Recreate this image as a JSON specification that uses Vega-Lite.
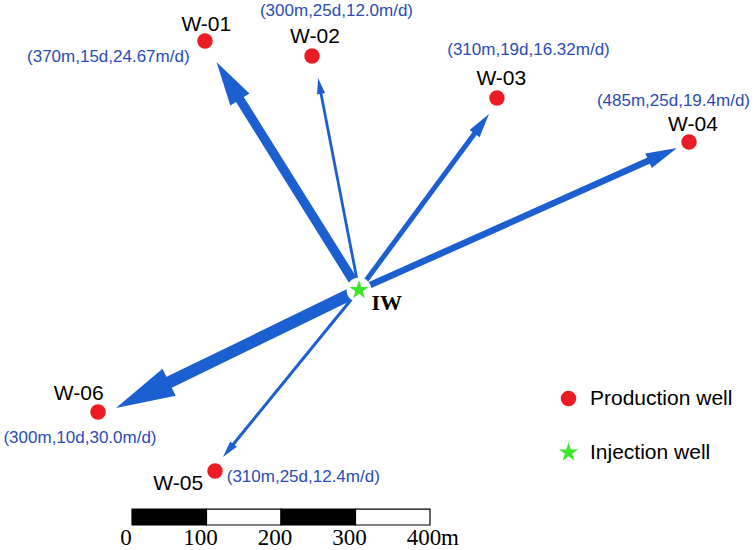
{
  "$schema": "https://vega.github.io/schema/vega-lite/v6.json",
  "width": 756,
  "height": 550,
  "padding": 0,
  "autosize": {"type": "none"},
  "background": "white",
  "config": {"view": {"stroke": null}},
  "datasets": {
    "wells": [
      {"well": "W-01", "type": "Production well", "east": -206.7, "north": 334.2, "tip_e": -191.3, "tip_n": 306.0, "shaft_e": -169.4, "shaft_n": 271.0, "bearing": -32.0, "distance": 370, "days": 15, "velocity": 24.67, "name_e": -205.0, "name_n": 347.7, "note": "(370m,15d,24.67m/d)", "note_e": -336.5, "note_n": 305.6},
      {"well": "W-02", "type": "Production well", "east": -63.1, "north": 314.1, "tip_e": -55.0, "tip_n": 284.6, "shaft_e": -52.2, "shaft_n": 269.8, "bearing": -10.9, "distance": 300, "days": 25, "velocity": 12.0, "name_e": -59.1, "name_n": 331.1, "note": "(300m,25d,12.0m/d)", "note_e": -30.2, "note_n": 367.8},
      {"well": "W-03", "type": "Production well", "east": 185.2, "north": 257.7, "tip_e": 174.5, "tip_n": 236.2, "shaft_e": 161.1, "shaft_n": 218.1, "bearing": 36.4, "distance": 310, "days": 19, "velocity": 16.32, "name_e": 191.0, "name_n": 275.2, "note": "(310m,19d,16.32m/d)", "note_e": 227.5, "note_n": 315.4},
      {"well": "W-04", "type": "Production well", "east": 443.0, "north": 198.7, "tip_e": 426.8, "tip_n": 190.6, "shaft_e": 400.3, "shaft_n": 178.7, "bearing": 65.9, "distance": 485, "days": 25, "velocity": 19.4, "name_e": 448.3, "name_n": 213.8, "note": "(485m,25d,19.4m/d)", "note_e": 422.1, "note_n": 247.0},
      {"well": "W-05", "type": "Production well", "east": -193.3, "north": -243.0, "tip_e": -182.6, "tip_n": -224.2, "shaft_e": -172.5, "shaft_n": -211.8, "bearing": -140.8, "distance": 310, "days": 25, "velocity": 12.4, "name_e": -242.6, "name_n": -268.5, "note": "(310m,25d,12.4m/d)", "note_e": -74.8, "note_n": -257.3},
      {"well": "W-06", "type": "Production well", "east": -350.3, "north": -163.8, "tip_e": -326.2, "tip_n": -158.4, "shaft_e": -276.2, "shaft_n": -134.2, "bearing": -115.9, "distance": 300, "days": 10, "velocity": 30.0, "name_e": -376.2, "name_n": -147.7, "note": "(300m,10d,30.0m/d)", "note_e": -374.5, "note_n": -205.0},
      {"well": "IW", "type": "Injection well", "east": 0, "north": 0, "name_e": 37.2, "name_n": -26.8}
    ],
    "bar": [
      {"from": 0, "to": 100},
      {"from": 100, "to": 200},
      {"from": 200, "to": 300},
      {"from": 300, "to": 400}
    ],
    "ticks": [
      {"d": 0, "label": "0"},
      {"d": 100, "label": "100"},
      {"d": 200, "label": "200"},
      {"d": 300, "label": "300"},
      {"d": 400, "label": "400"}
    ]
  },
  "resolve": {"scale": {"x": "independent"}},
  "layer": [
    {
      "data": {"name": "wells"},
      "layer": [
        {
          "transform": [{"filter": "isValid(datum.velocity)"}],
          "mark": {"type": "rule", "color": "#1c5fd0", "strokeCap": "butt"},
          "encoding": {
            "x": {"field": "shaft_e", "type": "quantitative", "scale": {"domain": [-481.88, 532.89], "nice": false, "zero": false}, "axis": null},
            "y": {"field": "shaft_n", "type": "quantitative", "scale": {"domain": [-348.99, 389.26], "nice": false, "zero": false}, "axis": null},
            "x2": {"datum": 0},
            "y2": {"datum": 0},
            "strokeWidth": {"field": "velocity", "type": "quantitative", "scale": {"domain": [12, 30], "range": [2.8, 12], "zero": false}, "legend": null}
          }
        },
        {
          "transform": [{"filter": "isValid(datum.velocity)"}],
          "mark": {"type": "point", "shape": "M0,0L0.51,2L-0.51,2Z", "filled": true, "color": "#1c5fd0", "opacity": 1, "strokeWidth": 0},
          "encoding": {
            "x": {"field": "tip_e", "type": "quantitative", "scale": {"domain": [-481.88, 532.89], "nice": false, "zero": false}, "axis": null},
            "y": {"field": "tip_n", "type": "quantitative", "scale": {"domain": [-348.99, 389.26], "nice": false, "zero": false}, "axis": null},
            "angle": {"field": "bearing", "type": "quantitative", "scale": null},
            "size": {"field": "velocity", "type": "quantitative", "scale": {"type": "pow", "exponent": 3, "domain": [12, 30], "range": [256, 3481], "zero": false}, "legend": null}
          }
        },
        {
          "transform": [{"filter": "datum.type === 'Injection well'"}],
          "mark": {"type": "point", "shape": "circle", "filled": true, "color": "white", "opacity": 1, "size": 620, "strokeWidth": 0},
          "encoding": {
            "x": {"field": "east", "type": "quantitative", "scale": {"domain": [-481.88, 532.89], "nice": false, "zero": false}, "axis": null},
            "y": {"field": "north", "type": "quantitative", "scale": {"domain": [-348.99, 389.26], "nice": false, "zero": false}, "axis": null}
          }
        },
        {
          "mark": {"type": "point", "filled": true, "opacity": 1, "size": 240, "strokeWidth": 0},
          "encoding": {
            "x": {"field": "east", "type": "quantitative", "scale": {"domain": [-481.88, 532.89], "nice": false, "zero": false}, "axis": null},
            "y": {"field": "north", "type": "quantitative", "scale": {"domain": [-348.99, 389.26], "nice": false, "zero": false}, "axis": null},
            "color": {
              "field": "type", "type": "nominal",
              "scale": {"domain": ["Production well", "Injection well"], "range": ["#ec1c24", "#3ee62a"]},
              "legend": {"orient": "none", "legendX": 558, "legendY": 388, "title": null, "padding": 0, "labelFontSize": 21, "labelFont": "Liberation Sans", "labelColor": "black", "symbolSize": 240, "labelOffset": 11, "rowPadding": 32, "symbolStrokeWidth": 0, "symbolOpacity": 1}
            },
            "shape": {
              "field": "type", "type": "nominal",
              "scale": {"domain": ["Production well", "Injection well"], "range": ["circle", "M0,-1.3L0.292,-0.402L1.236,-0.402L0.472,0.153L0.764,1.052L0,0.497L-0.764,1.052L-0.472,0.153L-1.236,-0.402L-0.292,-0.402Z"]},
              "legend": {"orient": "none", "legendX": 558, "legendY": 388, "title": null, "padding": 0, "labelFontSize": 21, "labelFont": "Liberation Sans", "labelColor": "black", "symbolSize": 240, "labelOffset": 11, "rowPadding": 32, "symbolStrokeWidth": 0, "symbolOpacity": 1}
            }
          }
        },
        {
          "transform": [{"filter": "datum.type === 'Production well'"}],
          "mark": {"type": "text", "font": "Liberation Sans", "fontSize": 21, "color": "black", "align": "center", "baseline": "alphabetic"},
          "encoding": {
            "x": {"field": "name_e", "type": "quantitative", "scale": {"domain": [-481.88, 532.89], "nice": false, "zero": false}, "axis": null},
            "y": {"field": "name_n", "type": "quantitative", "scale": {"domain": [-348.99, 389.26], "nice": false, "zero": false}, "axis": null},
            "text": {"field": "well"}
          }
        },
        {
          "transform": [{"filter": "datum.type === 'Production well'"}],
          "mark": {"type": "text", "font": "Liberation Sans", "fontSize": 17, "color": "#2a4db5", "align": "center", "baseline": "alphabetic"},
          "encoding": {
            "x": {"field": "note_e", "type": "quantitative", "scale": {"domain": [-481.88, 532.89], "nice": false, "zero": false}, "axis": null},
            "y": {"field": "note_n", "type": "quantitative", "scale": {"domain": [-348.99, 389.26], "nice": false, "zero": false}, "axis": null},
            "text": {"field": "note"}
          }
        },
        {
          "transform": [{"filter": "datum.type === 'Injection well'"}],
          "mark": {"type": "text", "font": "Liberation Serif", "fontWeight": "bold", "fontSize": 22, "color": "black", "align": "center", "baseline": "alphabetic"},
          "encoding": {
            "x": {"field": "name_e", "type": "quantitative", "scale": {"domain": [-481.88, 532.89], "nice": false, "zero": false}, "axis": null},
            "y": {"field": "name_n", "type": "quantitative", "scale": {"domain": [-348.99, 389.26], "nice": false, "zero": false}, "axis": null},
            "text": {"field": "well"}
          }
        }
      ]
    },
    {
      "layer": [
        {
          "data": {"name": "bar"},
          "mark": {"type": "rect", "stroke": "black", "strokeWidth": 1.2},
          "encoding": {
            "x": {"field": "from", "type": "quantitative", "scale": {"domain": [-177.18, 837.58], "nice": false, "zero": false}, "axis": null},
            "x2": {"field": "to"},
            "y": {"datum": -294.0, "type": "quantitative", "scale": {"domain": [-348.99, 389.26], "nice": false, "zero": false}, "axis": null},
            "y2": {"datum": -315.4},
            "fill": {"field": "from", "type": "nominal", "scale": {"domain": [0, 100, 200, 300], "range": ["black", "white", "black", "white"]}, "legend": null}
          }
        },
        {
          "data": {"name": "ticks"},
          "mark": {"type": "text", "font": "Liberation Serif", "fontSize": 23, "color": "black", "align": "center", "baseline": "alphabetic", "dx": -6},
          "encoding": {
            "x": {"field": "d", "type": "quantitative", "scale": {"domain": [-177.18, 837.58], "nice": false, "zero": false}, "axis": null},
            "y": {"datum": -342.3, "type": "quantitative", "scale": {"domain": [-348.99, 389.26], "nice": false, "zero": false}, "axis": null},
            "text": {"field": "label"}
          }
        },
        {
          "data": {"values": [{"unit": "m"}]},
          "mark": {"type": "text", "font": "Liberation Serif", "fontSize": 23, "color": "black", "align": "left", "baseline": "alphabetic", "dx": 11},
          "encoding": {
            "x": {"datum": 400, "type": "quantitative", "scale": {"domain": [-177.18, 837.58], "nice": false, "zero": false}, "axis": null},
            "y": {"datum": -342.3, "type": "quantitative", "scale": {"domain": [-348.99, 389.26], "nice": false, "zero": false}, "axis": null},
            "text": {"field": "unit"}
          }
        }
      ]
    }
  ]
}
